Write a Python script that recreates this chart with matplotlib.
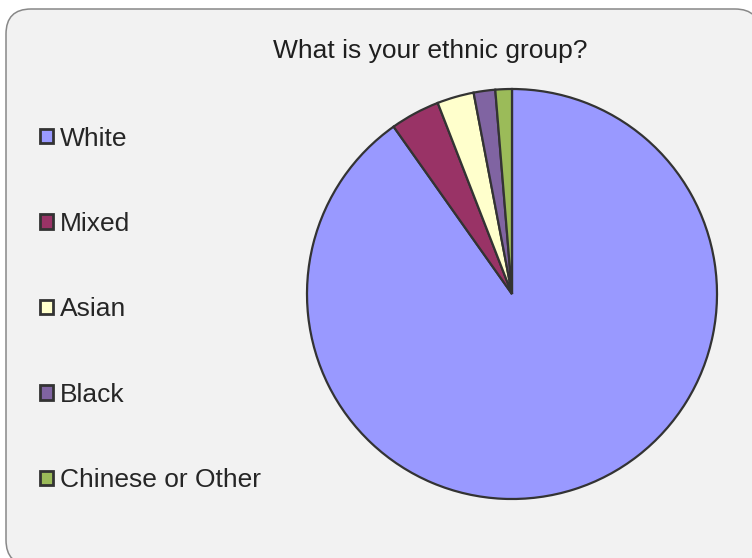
import matplotlib
matplotlib.use("Agg")
import matplotlib.pyplot as plt
from matplotlib.patches import FancyBboxPatch
from matplotlib.transforms import IdentityTransform

categories = ["White", "Mixed", "Asian", "Black", "Chinese or Other"]
values = [90.2, 3.9, 2.9, 1.7, 1.3]
colors = ["#9999FF", "#993366", "#FFFFCC", "#8064A2", "#9BBB59"]
title = "What is your ethnic group?"

plt.rcParams['font.family'] = ['Liberation Sans', 'DejaVu Sans']

W, H = 752, 558
fig = plt.figure(figsize=(W / 100, H / 100), dpi=100, facecolor="white")

# rounded chart-area background
bg = FancyBboxPatch((6, -7), 754, 556, boxstyle="round,pad=0,rounding_size=25",
                    transform=IdentityTransform(), facecolor="#F2F2F2",
                    edgecolor="#888888", linewidth=1.1, zorder=0)
fig.add_artist(bg)

cx, cy, r = 512, 294, 205
pad = 1.05
size = 2 * r * pad
ax = fig.add_axes([(cx - r * pad) / W, (H - cy - r * pad) / H, size / W, size / H])
ax.set_facecolor("none")
wedges, _ = ax.pie(values, colors=colors, startangle=90, counterclock=False,
                   wedgeprops=dict(edgecolor="#333333", linewidth=1.6))
ax.set_xlim(-pad, pad)
ax.set_ylim(-pad, pad)
ax.set_aspect("equal")
ax.axis("off")

fig.text(430 / W, (H - 51) / H, title, ha="center", va="center",
         fontsize=19, color="#1f1f1f")

fs = 19
leg = fig.legend(wedges, categories, loc="center left",
                 bbox_to_anchor=(40 / W, (H - 309.5) / H),
                 frameon=False, fontsize=fs, borderpad=0, borderaxespad=0,
                 handlelength=0.48, handleheight=0.48, handletextpad=0.28,
                 labelspacing=2.33, labelcolor="#262626")
for h in leg.legend_handles:
    h.set_linewidth(2.0)

fig.savefig("out.png", dpi=100, facecolor="white")
